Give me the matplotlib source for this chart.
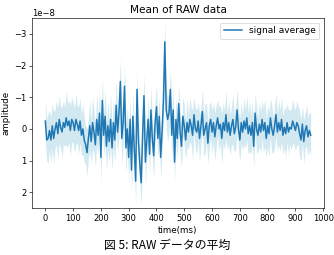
import numpy as np
import matplotlib
matplotlib.use("Agg")
import matplotlib.pyplot as plt

# time axis (ms), step 5
time_ms = np.arange(0, 960, 5)

# mean signal, in units of 1e-8
signal_mean = [
    -0.25, 0.35, 0.3, 0.05, 0.35, -0.1, 0.3, 0.0, -0.2, 0.15,
    -0.3, -0.05, 0.1, -0.2, -0.05, -0.35, -0.1, -0.25, 0.05, -0.3,
    -0.2, 0.05, -0.3, -0.15, 0.05, -0.25, 0.2, 0.0, 0.35, 0.5,
    0.75, 0.3, -0.1, 0.4, -0.2, 0.1, 0.5, -0.3, 0.2, -0.5,
    0.9, -0.9, 0.2, -0.4, 0.55, -0.1, 0.4, -0.3, 0.6, -0.2,
    0.35, -0.75, 0.1, -0.5, -1.5, 0.3, -0.2, -1.35, 0.6, 0.0,
    0.9, -0.3, 1.3, -0.4, 0.6, 1.65, -1.25, 0.4, 1.1, 1.7,
    0.2, -1.05, 1.05, 0.4, -0.3, 0.8, -0.6, 0.3, 0.85, -0.2,
    -0.7, 0.3, -0.4, 0.9, 0.1, -0.9, -2.75, -0.6, -0.3, -0.5,
    -1.25, 0.2, -0.6, 1.05, -0.3, 0.3, -0.8, 0.1, 0.55, -0.4,
    -0.1, 0.35, -0.2, 0.1, -0.3, -0.1, 0.2, -0.45, 0.0, 0.1,
    -0.25, 0.3, -0.1, -0.55, 0.2, 0.0, -0.2, 0.45, -0.1, -0.3,
    0.1, -0.2, 0.25, -0.1, -0.35, 0.0, -0.15, 0.3, -0.2, 0.05,
    -0.45, 0.1, -0.2, 0.2, -0.1, -0.3, 0.15, -0.05, -0.6, 0.0,
    0.35, -0.2, 0.1, -0.25, 0.0, -0.35, 0.15, -0.1, 0.2, -0.2,
    0.55, -0.5, 0.0, 0.2, -0.15, 0.1, -0.3, 0.05, -0.2, 0.3,
    -0.1, 0.15, -0.35, 0.0, 0.2, -0.1, -0.45, 0.1, -0.2, 0.05,
    -0.3, 0.2, -0.05, 0.15, -0.2, 0.1, -0.05, 0.0, -0.25, -0.1,
    0.05, -0.2, -0.1, 0.15, 0.35, -0.15, 0.4, 0.05, -0.1, 0.25,
    0.05, 0.2,
]

# spread of the shaded band, same units
signal_std = [
    0.7, 0.65, 0.8, 0.6, 0.75, 0.7, 0.85, 0.6, 0.7, 0.8,
    0.75, 0.65, 0.8, 0.7, 0.6, 0.85, 0.7, 0.65, 0.8, 0.7,
    0.65, 0.7, 0.8, 0.6, 0.75, 0.7, 0.65, 0.8, 0.7, 0.6,
    0.75, 0.65, 0.8, 0.7, 0.85, 0.65, 0.7, 0.8, 0.6, 0.75,
    0.8, 0.7, 0.65, 0.85, 0.7, 0.75, 0.65, 0.8, 0.7, 0.75,
    0.7, 0.8, 0.65, 0.75, 0.7, 0.85, 0.7, 0.65, 0.8, 0.7,
    0.75, 0.65, 0.7, 0.8, 0.65, 0.7, 0.6, 0.75, 0.65, 0.7,
    0.65, 0.7, 0.75, 0.6, 0.7, 0.65, 0.75, 0.6, 0.7, 0.65,
    0.7, 0.6, 0.65, 0.7, 0.6, 0.7, 0.65, 0.6, 0.7, 0.65,
    0.6, 0.7, 0.65, 0.6, 0.7, 0.65, 0.6, 0.7, 0.65, 0.6,
    0.65, 0.6, 0.75, 0.55, 0.7, 0.6, 0.8, 0.55, 0.65, 0.7,
    0.6, 0.75, 0.55, 0.7, 0.65, 0.8, 0.6, 0.65, 0.7, 0.55,
    0.7, 0.6, 0.75, 0.65, 0.55, 0.7, 0.6, 0.8, 0.65, 0.6,
    0.75, 0.55, 0.7, 0.65, 0.6, 0.8, 0.6, 0.7, 0.65, 0.6,
    0.7, 0.65, 0.55, 0.75, 0.6, 0.7, 0.65, 0.8, 0.6, 0.7,
    0.65, 0.6, 0.75, 0.55, 0.7, 0.65, 0.6, 0.7, 0.75, 0.6,
    0.65, 0.7, 0.6, 0.75, 0.55, 0.7, 0.65, 0.6, 0.7, 0.65,
    0.7, 0.6, 0.65, 0.75, 0.6, 0.7, 0.55, 0.65, 0.7, 0.6,
    0.65, 0.7, 0.6, 0.75, 0.65, 0.6, 0.7, 0.55, 0.65, 0.6,
    0.6, 0.65,
]

x_ticks = [0, 100, 200, 300, 400, 500, 600, 700, 800, 900, 1000]
y_ticks = [-3, -2, -1, 0, 1, 2]

DPI = 57
plt.rcParams["font.size"] = 10.5
fig = plt.figure(figsize=(334 / DPI, 255 / DPI), dpi=DPI)
ax = fig.add_axes([0.096, 0.184, 0.874, 0.745])

mean = np.array(signal_mean) * 1e-8
std = np.array(signal_std) * 1e-8

ax.fill_between(time_ms, mean - std, mean + std, color="lightblue", alpha=0.55, linewidth=0)
ax.plot(time_ms, mean, color="tab:blue", linewidth=1.9, label="signal average")

ax.set_xticks(x_ticks)
ax.set_yticks(np.array(y_ticks) * 1e-8)
ax.set_ylim(2.5e-8, -3.5e-8)
ax.set_title("Mean of RAW data", fontsize=13.3)
ax.set_xlabel("time(ms)", fontsize=11)
ax.set_ylabel("amplitude", fontsize=11)
ax.legend(loc="upper right", fontsize=11.4)

fig.text(0.5, 1 - 239 / 255, "図 5: RAW データの平均", ha="center", va="top",
         fontsize=15, family=["Noto Sans CJK JP", "DejaVu Sans"])

fig.savefig("out.png", dpi=DPI)
